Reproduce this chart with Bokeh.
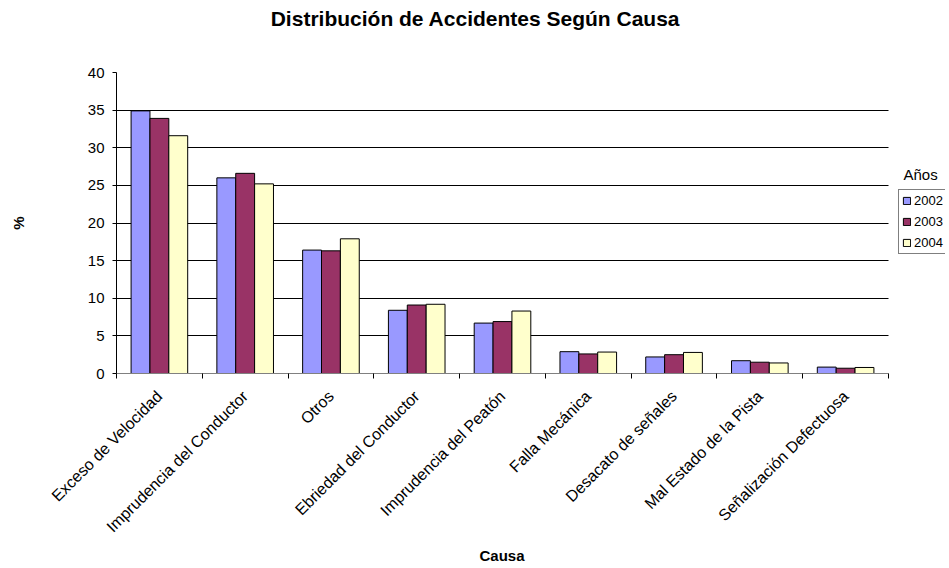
import numpy as np
from bokeh.plotting import figure
from bokeh.layouts import column
from bokeh.models import (ColumnDataSource, Range1d, FixedTicker, Legend, LegendItem, Label, Grid, Title)
from bokeh.transform import dodge
from bokeh.embed import file_html
from bokeh.resources import INLINE

causes = ["Exceso de Velocidad", "Imprudencia del Conductor", "Otros",
          "Ebriedad del Conductor", "Imprudencia del Peatón", "Falla Mecánica",
          "Desacato de señales", "Mal Estado de la Pista", "Señalización Defectuosa"]
years = ["2002", "2003", "2004"]
v2002 = [34.9, 26.0, 16.4, 8.4, 6.7, 2.9, 2.2, 1.7, 0.85]
v2003 = [33.9, 26.6, 16.3, 9.1, 6.9, 2.6, 2.5, 1.5, 0.7]
v2004 = [31.6, 25.2, 17.9, 9.2, 8.3, 2.85, 2.8, 1.4, 0.8]
colors = ["#9999FF", "#993366", "#FFFFCC"]
y_ticks = [0, 5, 10, 15, 20, 25, 30, 35, 40]
y_max = 40

FONT = "Liberation Sans"
W = 945
H_TOP = 40            # title strip
H_MAIN = 527          # chart
PLOT_L, PLOT_R, PLOT_T, PLOT_B = 116, 888, 72, 373   # plot area in page pixels
n = len(causes)

# ---- title strip (its frame is aligned with the chart frame by the column) ----
pt = figure(width=W, height=H_TOP, output_backend="svg", toolbar_location=None,
            x_range=Range1d(0, 1), y_range=Range1d(0, 1),
            x_axis_type=None, y_axis_type=None,
            min_border_left=0, min_border_right=0, min_border_top=0, min_border_bottom=0)
pt.outline_line_color = None
pt.xgrid.visible = False
pt.ygrid.visible = False
pt.add_layout(Label(x=475 - PLOT_L, y=H_TOP - 18, x_units="screen", y_units="screen",
                    text="Distribución de Accidentes Según Causa",
                    text_font=FONT, text_font_size="21px", text_font_style="bold",
                    text_align="center", text_baseline="middle", text_color="black"))

# ---- chart ----
x_end = n * (W - PLOT_L) / (PLOT_R - PLOT_L)   # frame runs to the right edge (legend inside)
centers = [i + 0.5 for i in range(n)]
src = ColumnDataSource(dict(xc=centers, v2002=v2002, v2003=v2003, v2004=v2004))

p = figure(width=W, height=H_MAIN, output_backend="svg", toolbar_location=None,
           x_range=Range1d(0, x_end), y_range=Range1d(0, y_max),
           min_border_left=PLOT_L, min_border_right=0,
           min_border_top=PLOT_T - H_TOP,
           min_border_bottom=H_MAIN - (PLOT_B - H_TOP))
p.outline_line_color = None
p.background_fill_color = "white"

# grid
p.xgrid.grid_line_color = None
ygrid = p.ygrid[0]
ygrid.ticker = FixedTicker(ticks=y_ticks[1:])
if "cross_bounds" in Grid.properties():
    ygrid.cross_bounds = (0, n)
    ygrid.grid_line_color = "black"
    ygrid.grid_line_width = 1
else:
    ygrid.grid_line_color = None
    gt = y_ticks[1:]
    p.segment(x0=[0] * len(gt), x1=[n] * len(gt), y0=gt, y1=gt,
              line_color="black", line_width=1)

bw = 0.22
offs = [-bw, 0.0, bw]
renderers = []
for col, off, c in zip(["v2002", "v2003", "v2004"], offs, colors):
    r = p.vbar(x=dodge("xc", off, range=p.x_range), top=col, width=bw, source=src,
               fill_color=c, line_color="black", line_width=1)
    renderers.append(r)

# x axis
p.xaxis.bounds = (0, n)
p.xaxis.ticker = FixedTicker(ticks=centers, minor_ticks=list(range(n + 1)))
p.xaxis.major_label_overrides = {c: name for c, name in zip(centers, causes)}
p.xaxis.major_tick_out = 0
p.xaxis.major_tick_in = 0
p.xaxis.minor_tick_out = 5
p.xaxis.minor_tick_in = 0
p.xaxis.minor_tick_line_color = "black"
p.xaxis.axis_line_color = "#808080"
p.xaxis.major_label_orientation = np.pi / 4
p.xaxis.major_label_standoff = 15
p.xaxis.major_label_text_font = FONT
p.xaxis.major_label_text_font_size = "16px"
p.xaxis.major_label_text_line_height = 1.0
p.xaxis.major_label_text_color = "black"

# x axis title, left-aligned with an offset so it centres under the plot area
p.add_layout(Title(text="Causa", align="left", offset=479 - PLOT_L,
                   vertical_align="top", standoff=4,
                   text_font=FONT, text_font_size="15px", text_font_style="bold",
                   text_line_height=1.0, text_color="black"), "below")

# y axis
p.yaxis.bounds = (0, y_max)
p.yaxis.ticker = FixedTicker(ticks=y_ticks)
p.yaxis.minor_tick_line_color = None
p.yaxis.major_tick_out = 4
p.yaxis.major_tick_in = 0
p.yaxis.axis_line_color = "black"
p.yaxis.major_tick_line_color = "black"
p.yaxis.major_label_text_font = FONT
p.yaxis.major_label_text_font_size = "15px"
p.yaxis.major_label_text_color = "black"
p.yaxis.major_label_standoff = 8
p.yaxis.axis_label = "%"
p.yaxis.axis_label_text_font = FONT
p.yaxis.axis_label_text_font_size = "15px"
p.yaxis.axis_label_text_font_style = "bold"
p.yaxis.axis_label_text_color = "black"
p.yaxis.axis_label_standoff = 58

# legend
items = [LegendItem(label=y, renderers=[r]) for y, r in zip(years, renderers)]
leg = Legend(items=items, location=(898 - PLOT_L, PLOT_B - 254))
leg.border_line_color = "black"
leg.border_line_width = 1
leg.background_fill_color = "white"
leg.background_fill_alpha = 1
leg.padding = 3
leg.margin = 0
leg.spacing = 6
leg.label_height = 14
leg.glyph_height = 9
leg.glyph_width = 9
leg.label_standoff = 3
leg.label_text_font = FONT
leg.label_text_font_size = "13px"
leg.label_text_color = "black"
p.add_layout(leg, "center")

p.add_layout(Label(x=903 - PLOT_L, y=PLOT_B - 174,
                   x_units="screen", y_units="screen",
                   text="Años", text_font=FONT, text_font_size="15px", text_align="left",
                   text_baseline="middle", text_color="black"))

layout = column(pt, p, spacing=0)
open("out.html", "w").write(file_html(layout, INLINE))
